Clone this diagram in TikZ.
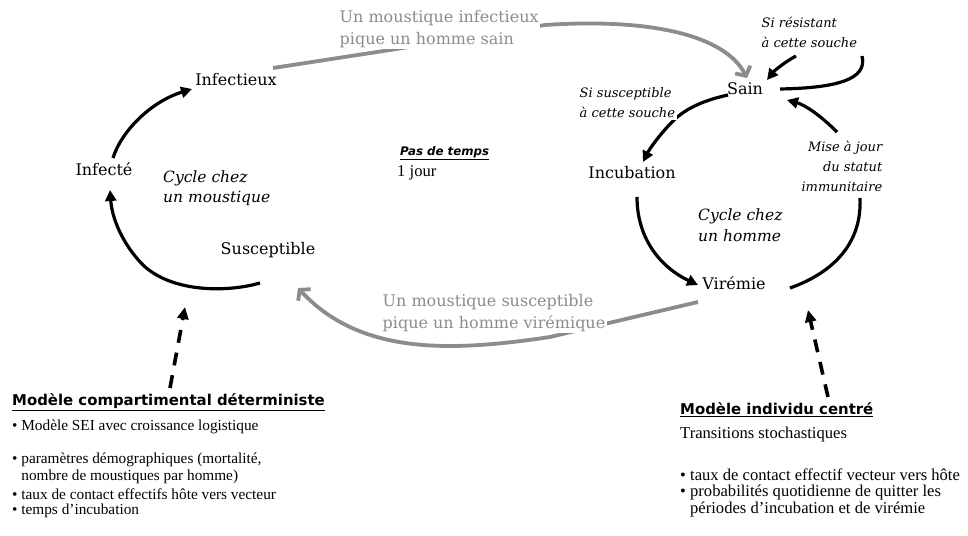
\documentclass[tikz,border=0pt]{standalone}
\usepackage{fontspec}
\setmainfont{Liberation Serif}
\newfontfamily\bk{DejaVu Serif}
\newfontfamily\hd{DejaVu Sans}
\usetikzlibrary{arrows.meta}
\pgfdeclarelayer{bg}
\pgfsetlayers{bg,main}
\definecolor{gr}{RGB}{140,140,140}
\tikzset{
 state/.style={font=\bk\fontsize{16}{18}\selectfont, inner sep=1pt},
 cond/.style={font=\bk\itshape\fontsize{13}{20}\selectfont, inner sep=1.5pt, fill=white, align=left},
 cyc/.style={font=\bk\itshape\fontsize{15.5}{20.5}\selectfont, inner sep=1pt, align=left},
 glab/.style={font=\bk\fontsize{16}{22}\selectfont, text=gr, inner sep=1.5pt, fill=white, align=left},
 blk/.style={line width=3.2pt, black},
 blkar/.style={blk, -{Triangle[length=11pt,width=11pt]}},
 gline/.style={line width=3.8pt, gr},
 gar/.style={gline, -{Straight Barb[length=7pt,width=17pt]}},
 dsh/.style={line width=3.6pt, dash pattern=on 13pt off 10pt, -{Triangle[length=12pt,width=11pt]}},
 head/.style={font=\hd\bfseries\fontsize{14.9}{16}\selectfont, inner sep=0pt},
 body/.style={font=\fontsize{15.3}{17.5}\selectfont, inner sep=0pt, anchor=west},
 rbody/.style={font=\fontsize{16.6}{17.5}\selectfont, inner sep=0pt, anchor=west}
}
\begin{document}
\begin{tikzpicture}[x=1pt,y=-1pt]
\useasboundingbox (0,0) rectangle (968,535);
% states
\node[state] (infectieux) at (236,80) {Infectieux};
\node[state] (infecte) at (104,169) {Infecté};
\node[state] (suscept) at (268,250) {Susceptible};
\node[state] (sain) at (745,89) {Sain};
\node[state] (incub) at (632,173) {Incubation};
\node[state] (viremie) at (734,283) {Virémie};
% labels
\node[cyc, anchor=west] (cycm) at (162,188) {Cycle chez\\un moustique};
\node[cyc, anchor=west] (cych) at (697,225) {Cycle chez\\un homme};
\node[cond, anchor=west] (resist) at (760,32) {Si résistant\\à cette souche};
\node[cond, anchor=west] (suscl) at (578,103) {Si susceptible\\à cette souche};
\node[cond, anchor=east, align=right] (miseajour) at (884,166) {Mise à jour\\du statut\\immunitaire};
\node[glab, anchor=west] (gtop) at (338,29) {Un moustique infectieux\\pique un homme sain};
\node[glab, anchor=west] (gbot) at (381,313) {Un moustique susceptible\\pique un homme virémique};
\node[head, anchor=west, font=\hd\bfseries\itshape\fontsize{11.8}{14}\selectfont] (pas) at (400,153) {\underline{Pas de temps}};
\node[rbody] (jour) at (397,173) {1 jour};
% left block
\node[head, anchor=west] (hleft) at (12,402) {\underline{Modèle compartimental déterministe}};
\node[body] (l1) at (12,427) {\textbullet\ Modèle SEI avec croissance logistique};
\node[body] (l2) at (12,460) {\textbullet\ paramètres démographiques (mortalité,};
\node[body] (l3) at (12,477) {\phantom{\textbullet\ }nombre de moustiques par homme)};
\node[body] (l4) at (12,494) {\textbullet\ taux de contact effectifs hôte vers vecteur};
\node[body] (l5) at (12,511) {\textbullet\ temps d’incubation};
% right block
\node[head, anchor=west] (hright) at (680,410) {\underline{Modèle individu centré}};
\node[rbody] (r1) at (680,435) {Transitions stochastiques};
\node[rbody] (r2) at (680,475) {\textbullet\ taux de contact effectif vecteur vers hôte};
\node[rbody] (r3) at (680,492) {\textbullet\ probabilités quotidienne de quitter les};
\node[rbody] (r4) at (680,509) {\phantom{\textbullet\ }périodes d’incubation et de virémie};
% free ends of interrupted strokes
\coordinate (loopend) at (862,56);
\coordinate (loopback) at (796,56);
\coordinate (miseend) at (860,198);
\coordinate (misestart) at (837,132);
\begin{pgfonlayer}{bg}
% mosquito cycle
\draw[blkar] ([shift={(9,-11)}]infecte.center) .. controls (121,132) and (150,102) .. ([shift={(-44,9)}]infectieux.center);
\draw[blkar] ([shift={(-8,33)}]suscept.center) .. controls (225,293) and (170,292) .. (142,264) .. controls (122,243) and (112,218) .. ([shift={(6,21)}]infecte.center);
% human cycle
\draw[blkar] ([shift={(-17,6)}]sain.center) .. controls (705,100) and (686,108) .. (673,121) .. controls (661,133) and (650,148) .. ([shift={(11,-11)}]incub.center);
\draw[blk] ([shift={(35,0)}]sain.center) .. controls (835,88) and (868,80) .. (loopend);
\draw[blkar] (loopback) .. controls (785,62) and (775,70) .. ([shift={(22,-9)}]sain.center);
\draw[blkar] ([shift={(5,24)}]incub.center) .. controls (637,240) and (662,268) .. ([shift={(-36,2)}]viremie.center);
\draw[blk] ([shift={(56,5)}]viremie.center) .. controls (835,272) and (862,242) .. (miseend);
\draw[blkar] (misestart) .. controls (820,115) and (805,105) .. ([shift={(42,11)}]sain.center);
% grey transmissions
\draw[gar] ([shift={(37,-12)}]infectieux.center) -- (390,50) -- (545,25) .. controls (650,18) and (725,35) .. ([shift={(2,-11)}]sain.center);
\draw[gar] ([shift={(-36,19)}]viremie.center) -- (613,322) -- (550,337) .. controls (450,352) and (360,355) .. ([shift={(30,38)}]suscept.center);
% model links
\draw[dsh] ([shift={(158,-14)}]hleft.west) -- ([shift={(-83,57)}]suscept.center);
\draw[dsh] ([shift={(148,-13)}]hright.west) -- ([shift={(74,27)}]viremie.center);
\end{pgfonlayer}
\end{tikzpicture}
\end{document}
